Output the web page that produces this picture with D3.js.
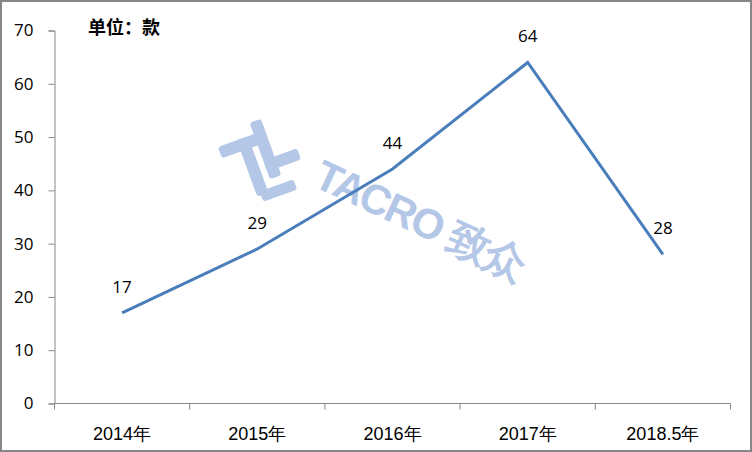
<!DOCTYPE html>
<html><head><meta charset="utf-8">
<script src="https://cdn.jsdelivr.net/npm/d3@7"></script>
<style>body{margin:0;background:#fff}svg{display:block}</style>
</head><body>
<svg id="c" width="752" height="452"></svg>
<script>
const categories = ["2014年","2015年","2016年","2017年","2018.5年"];
const values = [17,29,44,64,28];
const yTicks = [0,10,20,30,40,50,60,70];
const unitLabel = "单位：款";

(function(){
const svg = d3.select("#c");
const W=752,H=452;
svg.append("rect").attr("x",1).attr("y",1).attr("width",W-2).attr("height",H-2)
  .attr("fill","#fff").attr("stroke","#868686").attr("stroke-width",2);

const mL=54.5, mR=730.5, mT=30.5, mB=403.5;
const x = d3.scaleBand().domain(categories).range([mL,mR]);
const y = d3.scaleLinear().domain([0,70]).range([mB,mT]);

// watermark
const wm = svg.append("g").attr("fill","#b4c7e7");
const logo = wm.append("g").attr("transform","translate(262,163) rotate(-20)");
logo.append("rect").attr("x",-36).attr("y",-30).attr("width",44).attr("height",12).attr("rx",3);
logo.append("rect").attr("x",-16).attr("y",-30).attr("width",12).attr("height",60).attr("rx",3);
logo.append("rect").attr("x",2).attr("y",-42).attr("width",12).attr("height",60).attr("rx",3);
logo.append("rect").attr("x",2).attr("y",-2).attr("width",36).attr("height",12).attr("rx",3);
logo.append("rect").attr("x",-12).attr("y",26).attr("width",36).attr("height",11).attr("rx",3);
wm.append("text").attr("transform","translate(420,220) rotate(25)")
  .attr("text-anchor","middle").attr("dominant-baseline","central")
  .attr("font-family","Liberation Sans, Arial, sans-serif").attr("font-weight","bold")
  .attr("font-size",42).attr("letter-spacing",-2).text("TACRO 致众");

// y axis
const ya = svg.append("g").attr("transform",`translate(${mL},0)`)
  .call(d3.axisLeft(y).tickValues(yTicks).tickSize(6).tickPadding(10));
ya.select(".domain").attr("stroke","#868686");
ya.selectAll(".tick line").attr("stroke","#868686");
ya.selectAll("text").attr("font-family","Open Sans, sans-serif").attr("font-size",17).attr("fill","#000").attr("dx",-5);

// x axis
const xa = svg.append("g").attr("transform",`translate(0,${mB})`);
xa.append("line").attr("x1",mL).attr("x2",mR).attr("stroke","#868686");
const edges = categories.map(c=>x(c)).concat([mR]);
xa.selectAll("line.t").data(edges).join("line").attr("class","t")
  .attr("x1",d=>d).attr("x2",d=>d).attr("y1",0).attr("y2",6).attr("stroke","#868686");
xa.selectAll("text").data(categories).join("text")
  .attr("x",d=>x(d)+x.bandwidth()/2).attr("y",36).attr("text-anchor","middle")
  .attr("font-family","Liberation Sans Narrow, Liberation Sans, sans-serif").attr("font-size",18)
  .attr("fill","#000").text(d=>d);

// line
const line = d3.line().x((d,i)=>x(categories[i])+x.bandwidth()/2).y(d=>y(d));
svg.append("path").datum(values).attr("d",line).attr("fill","none")
  .attr("stroke","#4a7ebb").attr("stroke-width",3).attr("stroke-linejoin","miter");

// labels
svg.selectAll("text.lbl").data(values).join("text").attr("class","lbl")
  .attr("x",(d,i)=>x(categories[i])+x.bandwidth()/2).attr("y",d=>y(d)-20)
  .attr("text-anchor","middle").attr("font-family","Open Sans, sans-serif").attr("font-size",17)
  .attr("fill","#000").text(d=>d);

svg.append("text").attr("x",88).attr("y",34).attr("font-family","Noto Sans CJK SC, sans-serif")
  .attr("font-size",18).attr("font-weight","bold").attr("fill","#000").text(unitLabel);
})();
</script>
</body></html>
